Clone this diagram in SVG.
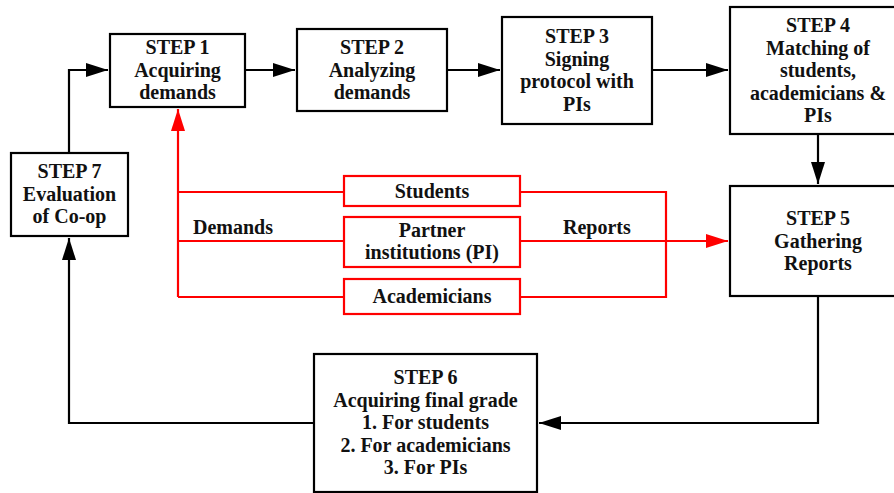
<svg xmlns="http://www.w3.org/2000/svg" width="894" height="493" viewBox="0 0 894 493" font-family="'Liberation Serif', 'Times New Roman', 'DejaVu Serif', serif">
<defs>
<style>
.box{fill:#fff;stroke:#000;stroke-width:2.2}
.rbox{fill:#fff;stroke:#f00;stroke-width:2.2}
.t{font-family:'Liberation Serif','Times New Roman','DejaVu Serif',serif;font-weight:700;font-size:20px;fill:#111;text-anchor:middle}
.tl{text-anchor:start}
.c{fill:none;stroke:#000;stroke-width:2.2}
.r{fill:none;stroke:#f00;stroke-width:2.2}
</style>
<marker id="ab" viewBox="0 0 22 14" refX="22" refY="7" markerWidth="22" markerHeight="14" orient="auto" markerUnits="userSpaceOnUse"><path d="M0,0 L22,7 L0,14 Z" fill="#000"/></marker>
<marker id="ar" viewBox="0 0 22 14" refX="22" refY="7" markerWidth="22" markerHeight="14" orient="auto" markerUnits="userSpaceOnUse"><path d="M0,0 L22,7 L0,14 Z" fill="#f00"/></marker>
</defs>
<g id="connectors">
<path class="c" d="M69 153 V70 H108" marker-end="url(#ab)"/>
<path class="c" d="M245 70 H295" marker-end="url(#ab)"/>
<path class="c" d="M447 70 H500" marker-end="url(#ab)"/>
<path class="c" d="M652 70 H728" marker-end="url(#ab)"/>
<path class="c" d="M818 134 V184" marker-end="url(#ab)"/>
<path class="c" d="M818 296 V423 H539" marker-end="url(#ab)"/>
<path class="c" d="M314 423 H69 V238" marker-end="url(#ab)"/>
<path class="r" d="M178 297 V109" marker-end="url(#ar)"/>
<path class="r" d="M178 192 H344 M178 241 H344 M178 297 H344"/>
<path class="r" d="M520 192 H666 V297 H520"/>
<path class="r" d="M520 241 H728" marker-end="url(#ar)"/>
<text class="t tl" x="193" y="234">Demands</text>
<text class="t tl" x="563" y="234">Reports</text>
</g>
<g id="step1"><rect class="box" x="110" y="34" width="135" height="73"/>
<text class="t" x="177.5" y="54">STEP 1</text><text class="t" x="177.5" y="76.5">Acquiring</text><text class="t" x="177.5" y="99">demands</text></g>
<g id="step2"><rect class="box" x="297" y="29" width="150" height="82"/>
<text class="t" x="372" y="54">STEP 2</text><text class="t" x="372" y="76.5">Analyzing</text><text class="t" x="372" y="99">demands</text></g>
<g id="step3"><rect class="box" x="502" y="17" width="150" height="107"/>
<text class="t" x="577" y="43">STEP 3</text><text class="t" x="577" y="65.5">Signing</text><text class="t" x="577" y="88">protocol with</text><text class="t" x="577" y="110.5">PIs</text></g>
<g id="step4"><rect class="box" x="730" y="7" width="176" height="127"/>
<text class="t" x="818" y="32">STEP 4</text><text class="t" x="818" y="54.5">Matching of</text><text class="t" x="818" y="77">students,</text><text class="t" x="818" y="99.5">academicians &amp;</text><text class="t" x="818" y="122">PIs</text></g>
<g id="step5"><rect class="box" x="730" y="186" width="176" height="110"/>
<text class="t" x="818" y="225">STEP 5</text><text class="t" x="818" y="247.5">Gathering</text><text class="t" x="818" y="270">Reports</text></g>
<g id="step6"><rect class="box" x="314" y="354" width="223" height="138"/>
<text class="t" x="425.5" y="384">STEP 6</text><text class="t" x="425.5" y="406.5">Acquiring final grade</text><text class="t" x="425.5" y="429">1. For students</text><text class="t" x="425.5" y="451.5">2. For academicians</text><text class="t" x="425.5" y="474">3. For PIs</text></g>
<g id="step7"><rect class="box" x="11" y="153" width="117" height="83"/>
<text class="t" x="69.5" y="178">STEP 7</text><text class="t" x="69.5" y="200.5">Evaluation</text><text class="t" x="69.5" y="223">of Co-op</text></g>
<g id="students"><rect class="rbox" x="344" y="176" width="176" height="30"/>
<text class="t" x="432" y="197.5">Students</text></g>
<g id="partners"><rect class="rbox" x="344" y="217" width="176" height="50"/>
<text class="t" x="432" y="236.5">Partner</text><text class="t" x="432" y="259">institutions (PI)</text></g>
<g id="academicians"><rect class="rbox" x="344" y="279" width="176" height="35"/>
<text class="t" x="432" y="303">Academicians</text></g>
</svg>
